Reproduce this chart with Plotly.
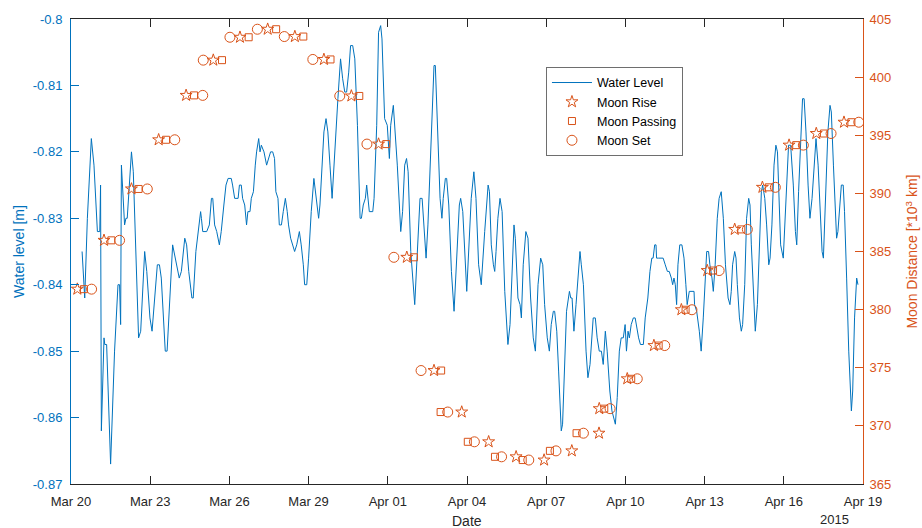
import pandas as pd
import plotly.graph_objects as go

# ---------------- data ----------------
start_date = "2015-03-20"

# water level: (days since start, level in m)
water_day = [
    0.42, 0.52, 0.62, 0.77, 0.87, 1.00, 1.09, 1.12, 1.15, 1.25, 1.28, 1.35, 1.50, 1.65, 1.78, 1.84, 1.88, 1.91,
    2.03, 2.08, 2.13, 2.29, 2.36, 2.56, 2.64, 2.79, 2.87, 2.99, 3.07, 3.19, 3.27, 3.35, 3.42, 3.57, 3.64, 3.85,
    4.03, 4.10, 4.18, 4.31, 4.38, 4.46, 4.58, 4.63, 4.73, 4.84, 4.91,
    4.94, 4.99, 5.14, 5.24, 5.32, 5.37, 5.44, 5.52, 5.62, 5.69, 5.79, 5.87, 5.95, 6.07, 6.12, 6.20, 6.33, 6.38,
    6.45, 6.50, 6.58, 6.65, 6.70, 6.78, 6.83, 6.91, 6.98, 7.03, 7.11, 7.16, 7.21, 7.31, 7.41, 7.49, 7.56, 7.64,
    7.71, 7.76, 7.84, 7.89, 7.97, 8.04, 8.12, 8.19, 8.24, 8.32, 8.40, 8.47, 8.55, 8.65, 8.72, 8.80, 8.85, 8.93,
    9.00, 9.10, 9.20, 9.28, 9.33, 9.38, 9.43, 9.51, 9.58, 9.66, 9.73, 9.81, 9.89,
    10.11, 10.21, 10.29, 10.37, 10.44, 10.52, 10.59, 10.67, 10.75, 10.85, 10.95, 11.00, 11.07, 11.15, 11.20,
    11.25, 11.30, 11.43, 11.48, 11.58, 11.65, 11.73, 11.78, 11.88, 11.98, 12.06, 12.11, 12.21, 12.26, 12.36,
    12.49, 12.56, 12.64, 12.71, 12.77, 12.87, 13.02, 13.12, 13.22, 13.30, 13.40, 13.45, 13.52, 13.65, 13.75,
    13.80, 13.88, 13.98, 14.05, 14.10, 14.18, 14.23, 14.31, 14.41, 14.51, 14.61, 14.71, 14.76,
    14.84, 14.99, 15.16, 15.26, 15.34, 15.44, 15.54, 15.67, 15.80, 15.85, 15.92, 16.00, 16.05, 16.10, 16.17,
    16.25, 16.33, 16.43, 16.55, 16.63, 16.73, 16.78, 16.83, 16.93, 17.01, 17.06, 17.13, 17.23, 17.31, 17.41,
    17.51, 17.59, 17.69, 17.79, 17.87, 17.94, 18.04, 18.12, 18.19, 18.27, 18.32, 18.40, 18.47, 18.57, 18.62,
    18.70, 18.77, 18.88, 18.93, 18.98, 19.05, 19.13, 19.20, 19.28, 19.33, 19.41, 19.51, 19.58, 19.66, 19.74,
    19.78, 19.86, 19.93, 20.01, 20.09, 20.16, 20.24, 20.31, 20.41, 20.49, 20.62, 20.69, 20.77, 20.84, 20.92,
    20.99, 21.04, 21.10, 21.15, 21.22, 21.30, 21.37, 21.45, 21.50, 21.57, 21.68, 21.75, 21.85, 21.93, 22.00,
    22.05, 22.11, 22.16, 22.18, 22.26, 22.43, 22.51, 22.59, 22.66, 22.74, 22.79, 22.84, 22.89, 22.94, 22.99,
    23.06, 23.14, 23.22, 23.29, 23.34, 23.42, 23.60, 23.62, 23.70, 23.80, 23.87, 23.95, 24.02, 24.08, 24.15,
    24.20, 24.28, 24.33, 24.40, 24.48, 24.55, 24.63,
    24.71, 24.79, 24.89, 24.96, 25.01, 25.06, 25.14, 25.19, 25.24, 25.32, 25.39, 25.44, 25.52, 25.59, 25.67,
    25.72, 25.77, 25.85, 25.92, 26.00, 26.07, 26.15, 26.20, 26.28, 26.35, 26.43, 26.48, 26.55, 26.63, 26.70,
    26.76, 26.81, 26.88, 26.98, 27.03, 27.11, 27.18, 27.26, 27.36, 27.44, 27.49, 27.56, 27.64, 27.71, 27.77,
    27.84, 27.92, 27.99, 28.07, 28.14, 28.22, 28.30, 28.37, 28.45, 28.50, 28.57, 28.67, 28.75, 28.80, 28.88,
    28.95, 29.00, 29.05, 29.13, 29.18, 29.25, 29.30, 29.38, 29.46, 29.56, 29.61, 29.68, 29.76, 29.81,
]
water_level = [
    -0.835, -0.842, -0.830, -0.818, -0.822, -0.832, -0.832, -0.825, -0.862, -0.848, -0.849, -0.849, -0.867, -0.850, -0.840, -0.840, -0.846, -0.822,
    -0.831, -0.830, -0.830, -0.820, -0.823, -0.848, -0.847, -0.835, -0.838, -0.845, -0.847, -0.841, -0.837, -0.837, -0.839, -0.850, -0.850, -0.834,
    -0.838, -0.839, -0.838, -0.833, -0.834, -0.838, -0.842, -0.842, -0.835, -0.831, -0.829,
    -0.830, -0.832, -0.832, -0.831, -0.827, -0.827, -0.831, -0.832, -0.834, -0.832, -0.828, -0.825, -0.824, -0.824, -0.825, -0.827, -0.827, -0.825,
    -0.825, -0.827, -0.828, -0.831, -0.829, -0.829, -0.827, -0.826, -0.822, -0.820, -0.818, -0.820, -0.819, -0.820, -0.822, -0.821, -0.820, -0.820,
    -0.821, -0.826, -0.827, -0.831, -0.831, -0.829, -0.827, -0.829, -0.831, -0.833, -0.834, -0.835, -0.834, -0.832, -0.834, -0.837, -0.840, -0.840,
    -0.836, -0.829, -0.824, -0.827, -0.829, -0.830, -0.828, -0.822, -0.817, -0.815, -0.817, -0.822, -0.827,
    -0.812, -0.806, -0.809, -0.811, -0.811, -0.808, -0.804, -0.804, -0.806, -0.816, -0.830, -0.830, -0.828, -0.827, -0.825,
    -0.827, -0.829, -0.829, -0.827, -0.816, -0.802, -0.801, -0.803, -0.815, -0.816, -0.821, -0.816, -0.813, -0.816, -0.822,
    -0.832, -0.829, -0.822, -0.821, -0.823, -0.835, -0.843, -0.835, -0.827, -0.827, -0.833, -0.836, -0.831, -0.817, -0.807,
    -0.807, -0.815, -0.827, -0.830, -0.827, -0.824, -0.824, -0.828, -0.838, -0.844, -0.836, -0.828, -0.827,
    -0.829, -0.841, -0.827, -0.823, -0.827, -0.837, -0.840, -0.832, -0.825, -0.826, -0.834, -0.837, -0.838, -0.835, -0.830,
    -0.827, -0.829, -0.841, -0.849, -0.846, -0.835, -0.831, -0.833, -0.842, -0.843, -0.845, -0.837, -0.832, -0.833, -0.842,
    -0.848, -0.850, -0.840, -0.836, -0.837, -0.843, -0.848, -0.850, -0.846, -0.844, -0.844, -0.847, -0.853, -0.862, -0.861,
    -0.852, -0.844, -0.841, -0.842, -0.842, -0.847, -0.843, -0.839, -0.835, -0.837, -0.840, -0.850, -0.854, -0.852, -0.848,
    -0.845, -0.845, -0.848, -0.850, -0.850, -0.852, -0.847, -0.850, -0.856, -0.859, -0.861, -0.857, -0.850, -0.848, -0.848,
    -0.846, -0.850, -0.847, -0.848, -0.846, -0.845, -0.845, -0.847, -0.848, -0.849, -0.849, -0.845, -0.842, -0.838, -0.836,
    -0.836, -0.834, -0.834, -0.836, -0.836, -0.836, -0.837, -0.838, -0.838, -0.839, -0.840, -0.839, -0.840, -0.843, -0.837,
    -0.834, -0.834, -0.836, -0.840, -0.843, -0.841, -0.841, -0.843, -0.844, -0.847, -0.850, -0.845, -0.839, -0.835, -0.835,
    -0.837, -0.839, -0.841, -0.837, -0.830, -0.827, -0.826,
    -0.830, -0.837, -0.842, -0.843, -0.841, -0.837, -0.835, -0.836, -0.840, -0.845, -0.847, -0.846, -0.840, -0.830, -0.827,
    -0.828, -0.834, -0.841, -0.847, -0.843, -0.835, -0.826, -0.825, -0.827, -0.831, -0.837, -0.836, -0.831, -0.822, -0.819,
    -0.820, -0.827, -0.834, -0.836, -0.832, -0.825, -0.819, -0.819, -0.825, -0.832, -0.834, -0.826, -0.817, -0.812, -0.812,
    -0.817, -0.825, -0.830, -0.827, -0.822, -0.818, -0.822, -0.828, -0.835, -0.836, -0.829, -0.817, -0.813, -0.814, -0.822,
    -0.830, -0.833, -0.832, -0.828, -0.825, -0.825, -0.829, -0.839, -0.850, -0.859, -0.856, -0.845, -0.839, -0.840,
]

# moon events: (days since start, distance in 10^3 km)
rise_day = [0.24, 1.25, 2.29, 3.32, 4.36, 5.39, 6.40, 7.45, 8.48, 9.58, 10.62, 11.65, 12.72, 13.75, 14.80,
            15.82, 16.86, 17.92, 18.97, 20.00, 20.01, 21.07, 22.08, 23.12, 24.10, 25.14, 26.19, 27.20, 28.23, 29.28]
rise_dist = [381.76, 385.96, 390.38, 394.61, 398.43, 401.46, 403.43, 404.12, 403.49, 401.52, 398.38, 394.24, 384.50,
             374.76, 371.19, 368.63, 367.34, 367.06, 367.85, 369.37, 371.48, 374.05, 376.91, 379.99, 383.36, 386.90,
             390.52, 394.15, 395.15, 396.12]
pass_day = [0.49, 1.53, 2.56, 3.60, 4.66, 5.72, 6.73, 7.77, 8.80, 9.83, 10.92, 11.94, 12.99, 14.02, 14.00,
            15.03, 16.06, 17.11, 18.14, 19.15, 20.20, 21.22, 22.26, 23.28, 24.32, 25.39, 26.43, 27.47, 28.52, 29.56]
pass_dist = [381.76, 385.96, 390.38, 394.61, 398.43, 401.46, 403.43, 404.12, 403.49, 401.52, 398.38, 394.24, 384.50,
             374.76, 371.19, 368.63, 367.34, 367.06, 367.85, 369.37, 371.48, 374.05, 376.91, 379.99, 383.36, 386.90,
             390.52, 394.15, 395.15, 396.12]
set_day = [0.78, 1.84, 2.89, 3.93, 4.99, 5.01, 6.02, 7.06, 8.08, 9.16, 10.18, 11.21, 12.23, 13.26, 14.27,
           15.28, 16.31, 17.34, 18.37, 19.41, 20.42, 21.45, 22.49, 23.52, 24.55, 25.62, 26.68, 27.74, 28.79, 29.84]
set_dist = [381.76, 385.96, 390.38, 394.61, 398.43, 401.46, 403.43, 404.12, 403.49, 401.52, 398.38, 394.24, 384.50,
            374.76, 371.19, 368.63, 367.34, 367.06, 367.85, 369.37, 371.48, 374.05, 376.91, 379.99, 383.36, 386.90,
            390.52, 394.15, 395.15, 396.12]

left_ticks = [-0.87, -0.86, -0.85, -0.84, -0.83, -0.82, -0.81, -0.8]
left_labels = ["-0.87", "-0.86", "-0.85", "-0.84", "-0.83", "-0.82", "-0.81", "-0.8"]
right_ticks = [365, 370, 375, 380, 385, 390, 395, 400, 405]

# ---------------- figure ----------------
BLUE = "#0072BD"
ORANGE = "#D95319"
DARK = "#262626"
FONT = "Liberation Sans, Arial, sans-serif"

t0 = pd.Timestamp(start_date)


def to_time(days):
    return t0 + pd.to_timedelta(pd.Series(days), unit="D")


fig = go.Figure()
fig.add_trace(go.Scatter(x=to_time(water_day), y=water_level, mode="lines", name="Water Level",
                         line=dict(color=BLUE, width=1), yaxis="y"))
fig.add_trace(go.Scatter(x=to_time(rise_day), y=rise_dist, mode="markers", name="Moon Rise", yaxis="y2",
                         marker=dict(symbol="star-open", size=9, color=ORANGE, line=dict(width=1, color=ORANGE))))
fig.add_trace(go.Scatter(x=to_time(pass_day), y=pass_dist, mode="markers", name="Moon Passing", yaxis="y2",
                         marker=dict(symbol="square-open", size=7, color=ORANGE, line=dict(width=1, color=ORANGE))))
fig.add_trace(go.Scatter(x=to_time(set_day), y=set_dist, mode="markers", name="Moon Set", yaxis="y2",
                         marker=dict(symbol="circle-open", size=10, color=ORANGE, line=dict(width=1, color=ORANGE))))

fig.update_layout(
    width=922, height=528,
    margin=dict(l=71, r=59, t=17, b=44),
    paper_bgcolor="white", plot_bgcolor="white",
    font=dict(family=FONT, size=13, color=DARK),
    showlegend=True,
    legend=dict(x=0.5997, y=0.897, xanchor="left", yanchor="top",
                bgcolor="white", bordercolor="#6e6e6e", borderwidth=1,
                font=dict(size=12.5, color="black"), tracegroupgap=0, itemwidth=40),
    xaxis=dict(type="date", range=[start_date, "2015-04-19"], tick0=start_date, dtick=3 * 86400000,
               tickformat="%b %d", ticks="inside", ticklen=8, tickcolor=DARK, ticklabelstandoff=5,
               showline=True, linecolor=DARK, linewidth=1, mirror="ticks",
               showgrid=False, zeroline=False, tickfont=dict(size=13, color=DARK)),
    yaxis=dict(range=[-0.87, -0.8], tickvals=left_ticks, ticktext=left_labels,
               ticks="inside", ticklen=8, tickcolor=BLUE, showline=True, linecolor=BLUE, linewidth=1,
               ticklabelstandoff=5,
               showgrid=False, zeroline=False, tickfont=dict(size=13, color=BLUE)),
    yaxis2=dict(range=[365, 405], tickvals=right_ticks, overlaying="y", side="right",
                ticks="inside", ticklen=8, tickcolor=ORANGE, showline=True, linecolor=ORANGE, linewidth=1,
                ticklabelstandoff=3,
                showgrid=False, zeroline=False, tickfont=dict(size=13, color=ORANGE)),
    annotations=[
        dict(text="Date", x=0.5, y=-0.0785, xref="paper", yref="paper", showarrow=False,
             xanchor="center", yanchor="middle", font=dict(size=14, color=DARK)),
        dict(text="2015", x=0.9646, y=-0.0771, xref="paper", yref="paper", showarrow=False,
             xanchor="center", yanchor="middle", font=dict(size=13, color=DARK)),
        dict(text="Water level [m]", x=-0.0663, y=0.5, xref="paper", yref="paper", showarrow=False,
             textangle=-90, xanchor="center", yanchor="middle", font=dict(size=14, color=BLUE)),
        dict(text="Moon Distance [*10<sup>3</sup> km]", x=1.0607, y=0.5, xref="paper", yref="paper",
             showarrow=False, textangle=-90, xanchor="center", yanchor="middle",
             font=dict(size=14, color=ORANGE)),
    ],
)

fig.write_html("out.html")
